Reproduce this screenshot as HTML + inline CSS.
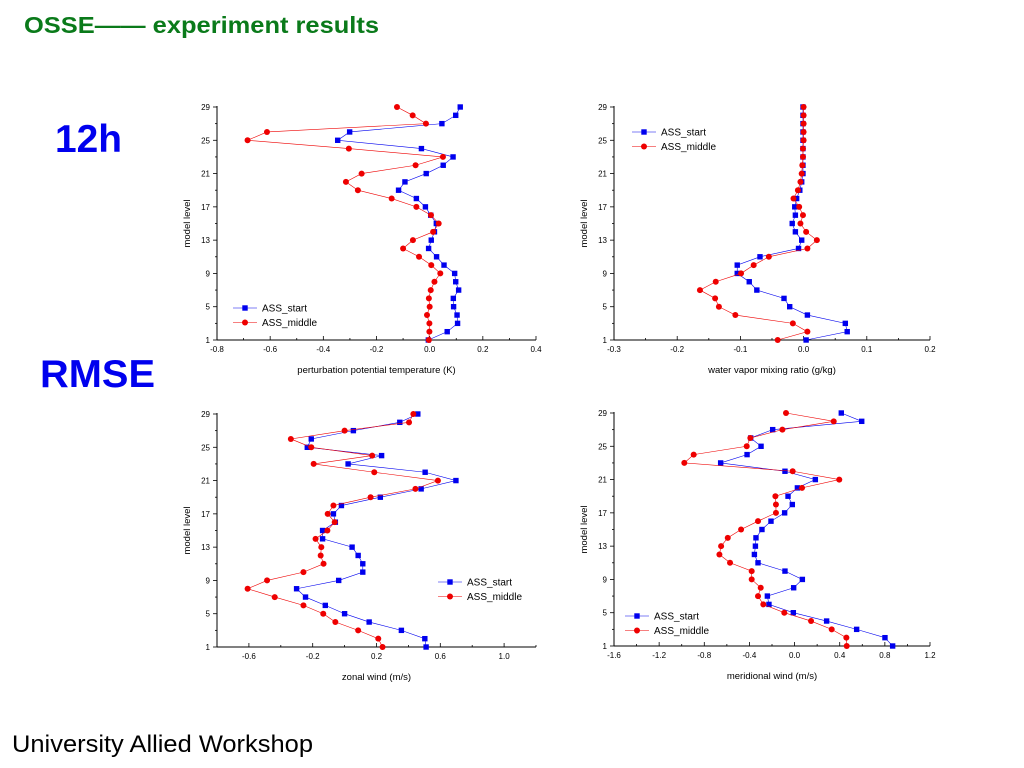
<!DOCTYPE html>
<html><head><meta charset="utf-8"><style>
body{margin:0;background:#fff;width:1024px;height:768px;overflow:hidden;font-family:"Liberation Sans",sans-serif}
svg{position:absolute;left:0;top:0}
</style></head><body>
<svg id="s" width="1024" height="768">
<text x="24" y="33" font-size="23" font-weight="bold" fill="#0a7a1a" textLength="355" lengthAdjust="spacingAndGlyphs">OSSE—— experiment results</text>
<text x="55" y="152" font-size="39" font-weight="bold" fill="#0000ee" textLength="67" lengthAdjust="spacingAndGlyphs">12h</text>
<text x="40" y="387" font-size="39" font-weight="bold" fill="#0000ee" textLength="115" lengthAdjust="spacingAndGlyphs">RMSE</text>
<text x="12" y="752" font-size="24" fill="#000" textLength="301" lengthAdjust="spacingAndGlyphs">University Allied Workshop</text>
</svg>
<script>
const levels=[1,2,3,4,5,6,7,8,9,10,11,12,13,14,15,16,17,18,19,20,21,22,23,24,25,26,27,28,29];
const yTicks=[1,5,9,13,17,21,25,29];
const tStart=[-0.005,0.066,0.105,0.103,0.090,0.089,0.109,0.098,0.094,0.054,0.026,-0.004,0.006,0.018,0.025,0.004,-0.016,-0.050,-0.117,-0.093,-0.013,0.051,0.088,-0.031,-0.346,-0.301,0.046,0.098,0.115];
const tMiddle=[-0.003,-0.001,-0.001,-0.010,0,-0.003,0.004,0.018,0.040,0.006,-0.040,-0.100,-0.063,0.013,0.034,0.005,-0.050,-0.143,-0.270,-0.315,-0.256,-0.053,0.050,-0.304,-0.685,-0.612,-0.014,-0.064,-0.123];
const tTicks=[-0.8,-0.6,-0.4,-0.2,0.0,0.2,0.4];
const qStart=[0.004,0.069,0.066,0.006,-0.022,-0.031,-0.074,-0.086,-0.105,-0.105,-0.069,-0.008,-0.003,-0.013,-0.018,-0.013,-0.014,-0.011,-0.006,-0.003,-0.001,-0.001,-0.001,-0.001,-0.001,-0.001,-0.001,-0.001,-0.001];
const qMiddle=[-0.041,0.006,-0.017,-0.108,-0.134,-0.140,-0.164,-0.139,-0.099,-0.079,-0.055,0.006,0.021,0.004,-0.005,-0.001,-0.007,-0.016,-0.009,-0.005,-0.003,-0.002,-0.001,-0.001,0,0,0,0,0];
const qTicks=[-0.3,-0.2,-0.1,0.0,0.1,0.2];
const uStart=[0.511,0.503,0.356,0.154,0,-0.121,-0.245,-0.301,-0.037,0.114,0.114,0.085,0.047,-0.138,-0.138,-0.058,-0.070,-0.020,0.224,0.480,0.698,0.505,0.022,0.232,-0.234,-0.209,0.055,0.346,0.459];
const uMiddle=[0.238,0.211,0.085,-0.058,-0.134,-0.258,-0.438,-0.608,-0.486,-0.258,-0.132,-0.150,-0.146,-0.182,-0.108,-0.062,-0.106,-0.070,0.163,0.444,0.585,0.186,-0.194,0.173,-0.209,-0.337,0,0.404,0.431];
const uTicks=[-0.6,-0.2,0.2,0.6,1.0];
const vStart=[0.869,0.801,0.550,0.284,-0.011,-0.227,-0.241,-0.008,0.069,-0.085,-0.324,-0.356,-0.347,-0.342,-0.289,-0.209,-0.088,-0.020,-0.058,0.025,0.184,-0.085,-0.655,-0.421,-0.297,-0.389,-0.194,0.595,0.414];
const vMiddle=[0.462,0.459,0.329,0.146,-0.091,-0.277,-0.324,-0.300,-0.380,-0.380,-0.572,-0.666,-0.651,-0.592,-0.474,-0.324,-0.165,-0.165,-0.170,0.066,0.396,-0.017,-0.977,-0.894,-0.424,-0.392,-0.108,0.347,-0.076];
const vTicks=[-1.6,-1.2,-0.8,-0.4,0.0,0.4,0.8,1.2];

const S=document.getElementById('s');const NS='http://www.w3.org/2000/svg';
function mk(t,a,p){const e=document.createElementNS(NS,t);for(const k in a)e.setAttribute(k,a[k]);(p||S).appendChild(e);return e;}
function chart(o){
 const g=mk('g',{});
 
 
 const xs=v=>o.x0+(v-o.xmin)/(o.xmax-o.xmin)*(o.x1-o.x0);
 const ys=l=>o.y1-(l-1)/28*(o.y1-o.y0);
 mk('line',{x1:o.x0,y1:o.y1,x2:o.x1,y2:o.y1,stroke:'#000','stroke-width':1},g);
 mk('line',{x1:o.x0,y1:o.y0-1,x2:o.x0,y2:o.y1,stroke:'#000','stroke-width':1},g);
 for(let l=1;l<=29;l+=2){const y=ys(l);const maj=yTicks.includes(l);
  mk('line',{x1:o.x0-(maj?4:2),y1:y,x2:o.x0,y2:y,stroke:'#000','stroke-width':0.8},g);}
 yTicks.forEach(l=>{const t=mk('text',{x:o.x0-7,y:ys(l)+3,'font-size':8,'text-anchor':'end'},g);t.textContent=l;
  
  });
 const step=o.xt[1]-o.xt[0];
 for(let v=o.xt[0]-step/2*Math.ceil((o.xt[0]-o.xmin)/(step/2)-1e-6);v<=o.xmax+1e-6;v+=step/2){
  const x=xs(v);const maj=o.xt.some(t=>Math.abs(t-v)<1e-6);
  mk('line',{x1:x,y1:o.y1,x2:x,y2:o.y1-(maj?4:2),stroke:'#000','stroke-width':0.8},g);}
 o.xt.forEach(v=>{const t=mk('text',{x:xs(v),y:o.y1+12,'font-size':8,'text-anchor':'middle'},g);
  t.textContent=(Math.abs(v)<1e-9?0:v).toFixed(1);
  
  });
 const xt=mk('text',{x:(o.x0+o.x1)/2,y:o.y1+33,'font-size':9.5,'text-anchor':'middle'},g);xt.textContent=o.xlabel;
 
 
 const yc=(o.y0+o.y1)/2;
 const yt=mk('text',{x:o.x0-27,y:yc,'font-size':9.5,'text-anchor':'middle',transform:`rotate(-90 ${o.x0-27} ${yc})`},g);yt.textContent='model level';
 
 
 [[o.s,'#0000ee','sq','series-ass-start'],[o.m,'#ee0000','ci','series-ass-middle']].forEach(([d,c,sh,nm])=>{
  const sg=mk('g',{},g);
  
  
  mk('polyline',{points:d.map((v,i)=>xs(v)+','+ys(levels[i])).join(' '),fill:'none',stroke:c,'stroke-width':0.6},sg);
  d.forEach((v,i)=>{const x=xs(v),y=ys(levels[i]);
   const e=sh=='sq'?mk('rect',{x:x-2.7,y:y-2.7,width:5.4,height:5.4,fill:c},sg):mk('circle',{cx:x,cy:y,r:3,fill:c},sg);
   
   });
 });
 const lg=mk('g',{},g);
 
 
 [['ASS_start','#0000ee','sq'],['ASS_middle','#ee0000','ci']].forEach(([n,c,sh],i)=>{
  const y=o.ly+i*14.5;
  const le=mk('g',{},lg);
  
  
  mk('line',{x1:o.lx,y1:y,x2:o.lx+24,y2:y,stroke:c,'stroke-width':0.6},le);
  if(sh=='sq')mk('rect',{x:o.lx+9.3,y:y-2.7,width:5.4,height:5.4,fill:c},le);else mk('circle',{cx:o.lx+12,cy:y,r:3,fill:c},le);
  const t=mk('text',{x:o.lx+29,y:y+3.5,'font-size':10},le);t.textContent=n;});
}
chart({name:'chart-temperature',x0:217,x1:536,y0:107,y1:340,xmin:-0.8,xmax:0.4,xt:tTicks,s:tStart,m:tMiddle,xlabel:'perturbation potential temperature (K)',lx:233,ly:308});
chart({name:'chart-water-vapor',x0:614,x1:930,y0:107,y1:340,xmin:-0.3,xmax:0.2,xt:qTicks,s:qStart,m:qMiddle,xlabel:'water vapor mixing ratio (g/kg)',lx:632,ly:132});
chart({name:'chart-zonal-wind',x0:217,x1:536,y0:414,y1:647,xmin:-0.8,xmax:1.2,xt:uTicks,s:uStart,m:uMiddle,xlabel:'zonal wind (m/s)',lx:438,ly:582});
chart({name:'chart-meridional-wind',x0:614,x1:930,y0:413,y1:646,xmin:-1.6,xmax:1.2,xt:vTicks,s:vStart,m:vMiddle,xlabel:'meridional wind (m/s)',lx:625,ly:616});
</script>
</body></html>
